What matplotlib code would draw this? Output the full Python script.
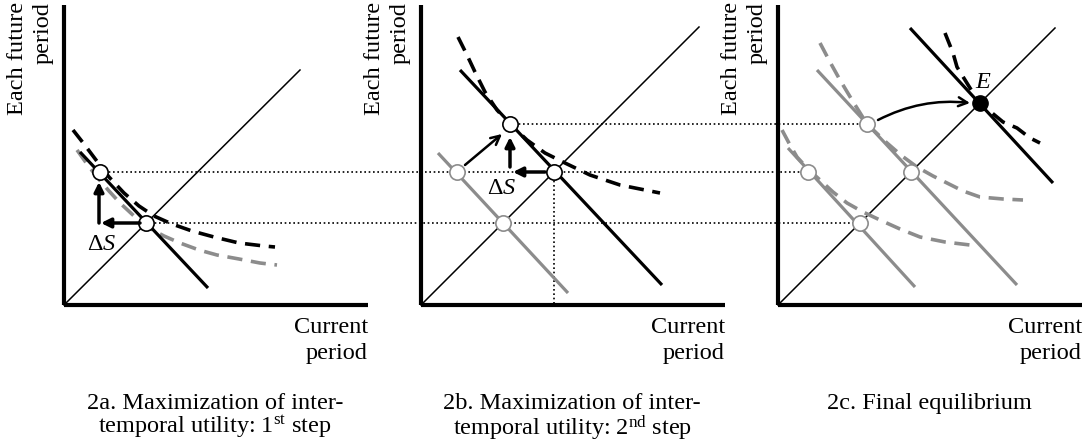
import matplotlib
matplotlib.use('Agg')
import matplotlib.pyplot as plt

plt.rcParams['font.family'] = ['Liberation Serif', 'DejaVu Serif']
plt.rcParams['mathtext.fontset'] = 'custom'
plt.rcParams['mathtext.rm'] = 'Liberation Serif'
plt.rcParams['mathtext.it'] = 'Liberation Serif:italic'

# ---------------- data (panel-local units, origin at the axes corner) ----------------
# panel 2a
a_diag_x = [0, 236]
a_diag_y = [0, 235]
a_budget_x = [16, 144]
a_budget_y = [153, 17]
a_ic_black_x = [9, 20, 32, 45, 60, 75, 90, 108, 128, 150, 175, 200, 211]
a_ic_black_y = [175, 161, 145, 128, 112, 99, 89, 81, 74, 68, 62, 59, 58]
a_ic_grey_x = [13, 23, 33, 45, 56, 70, 83, 100, 116, 135, 153, 175, 196, 213]
a_ic_grey_y = [155, 141, 128, 114, 102, 89, 78, 69, 62, 55, 50, 46, 42, 40]
a_points_x = [36, 82]
a_points_y = [133, 82]

# panel 2b
b_diag_x = [0, 278]
b_diag_y = [0, 278]
b_old_budget_x = [17, 147]
b_old_budget_y = [152, 12]
b_budget_x = [39, 241]
b_budget_y = [235, 20]
b_ic_black_x = [37, 46, 54, 64, 76, 89, 106, 124, 144, 169, 199, 239]
b_ic_black_y = [268, 250, 233, 213, 195, 181, 165, 152, 142, 130, 120, 112]
b_grey_points_x = [36, 82]
b_grey_points_y = [133, 82]
b_black_points_x = [89, 133]
b_black_points_y = [181, 133]

# panel 2c
c_diag_x = [0, 277]
c_diag_y = [0, 277]
c_budget1_x = [10, 137]
c_budget1_y = [157, 18]
c_budget2_x = [39, 239]
c_budget2_y = [235, 20]
c_budget_final_x = [132, 275]
c_budget_final_y = [277, 122]
c_ic_final_x = [167, 175, 179, 192, 202, 225, 239, 252, 262]
c_ic_final_y = [272, 252, 238, 217, 202, 183, 177, 167, 162]
c_ic_grey_upper_x = [42, 52, 62, 74, 89, 109, 124, 139, 155, 169, 185, 202, 225, 245]
c_ic_grey_upper_y = [262, 243, 225, 205, 181, 162, 149, 138, 129, 122, 114, 108, 106, 105]
c_ic_grey_lower_x = [4, 12, 19, 30, 42, 55, 69, 85, 102, 122, 142, 167, 192]
c_ic_grey_lower_y = [175, 160, 148, 136, 125, 113, 102, 93, 85, 76, 68, 63, 60]
c_points_x = [30, 82, 89, 133]
c_points_y = [133, 82, 181, 133]
c_eq_x = [202]
c_eq_y = [202]

captions = ['2a. Maximization of inter-\ntemporal utility: 1$^{\\mathrm{st}}$ step',
            '2b. Maximization of inter-\ntemporal utility: 2$^{\\mathrm{nd}}$ step',
            '2c. Final equilibrium']
x_label = 'Current\nperiod'
y_label = 'Each future\nperiod'

# ---------------- figure ----------------
FIG_W, FIG_H = 1086, 448
fig = plt.figure(figsize=(FIG_W / 100, FIG_H / 100), dpi=100)
fig.patch.set_facecolor('white')

GREY = '#8c8c8c'
panel_origins = [(64, 305), (421, 305), (778, 305)]
W, H = 304, 300
axes = []
for ox, oy in panel_origins:
    ax = fig.add_axes([ox / FIG_W, (FIG_H - oy) / FIG_H, W / FIG_W, H / FIG_H])
    ax.set_xlim(0, W)
    ax.set_ylim(0, H)
    ax.patch.set_visible(False)
    for s in ['top', 'right']:
        ax.spines[s].set_visible(False)
    for s in ['left', 'bottom']:
        ax.spines[s].set_linewidth(3)
        ax.spines[s].set_capstyle('butt')
    ax.set_xticks([])
    ax.set_yticks([])
    axes.append(ax)
axa, axb, axc = axes


def to_ax(ax_from, ax_to, pt):
    return ax_to.transData.inverted().transform(ax_from.transData.transform(pt))


def dashed(ax, x, y, color):
    ax.plot(x, y, color=color, lw=2.6, dashes=(4.2, 2.4), dash_capstyle='butt',
            zorder=3, clip_on=False)


def solid(ax, x, y, color, lw=2.3):
    ax.plot(x, y, color=color, lw=lw, solid_capstyle='butt', zorder=3, clip_on=False)


def dotted(ax, x, y):
    ax.plot(x, y, color='black', lw=1.2, linestyle=(0, (1, 1.6)), zorder=1, clip_on=False)


def circles(ax, x, y, edge):
    ax.plot(x, y, 'o', ms=11, mfc='white', mec=edge, mew=1.2, zorder=6, clip_on=False)


def arrow(ax, start, end, lw=2.5, style='-|>', ms=14, rad=0.0):
    ax.annotate('', xy=end, xytext=start,
                arrowprops=dict(arrowstyle=style, lw=lw, color='black', mutation_scale=ms,
                                shrinkA=0, shrinkB=0,
                                connectionstyle='arc3,rad=%s' % rad),
                zorder=7, annotation_clip=False)


# dotted guide lines spanning panels
xa_end = to_ax(axc, axa, (c_points_x[0], c_points_y[0]))[0]
dotted(axa, [a_points_x[0], xa_end], [a_points_y[0]] * 2)
xa_end2 = to_ax(axc, axa, (c_points_x[1], c_points_y[1]))[0]
dotted(axa, [a_points_x[1], xa_end2], [a_points_y[1]] * 2)
xb_end = to_ax(axc, axb, (c_points_x[2], c_points_y[2]))[0]
dotted(axb, [b_black_points_x[0], xb_end], [b_black_points_y[0]] * 2)
dotted(axb, [b_black_points_x[1]] * 2, [b_black_points_y[1], 0])

# panel a
axa.plot(a_diag_x, a_diag_y, color='black', lw=1.1, zorder=2, clip_on=False)
dashed(axa, a_ic_grey_x, a_ic_grey_y, GREY)
dashed(axa, a_ic_black_x, a_ic_black_y, 'black')
solid(axa, a_budget_x, a_budget_y, 'black')
arrow(axa, (76, 82), (37, 82))
arrow(axa, (35, 82), (35, 123))
circles(axa, a_points_x, a_points_y, 'black')
axa.text(38, 61, r'$\Delta S$', fontsize=17.5, ha='center', va='center')

# panel b
axb.plot(b_diag_x, b_diag_y, color='black', lw=1.1, zorder=2, clip_on=False)
solid(axb, b_old_budget_x, b_old_budget_y, GREY)
dashed(axb, b_ic_black_x, b_ic_black_y, 'black')
solid(axb, b_budget_x, b_budget_y, 'black')
arrow(axb, (124, 133), (92, 133))
arrow(axb, (89, 138), (89, 168))
arrow(axb, (44, 140), (81, 171), lw=1.8, style='->', ms=16)
circles(axb, b_grey_points_x, b_grey_points_y, GREY)
circles(axb, b_black_points_x, b_black_points_y, 'black')
axb.text(81, 117, r'$\Delta S$', fontsize=17.5, ha='center', va='center')

# panel c
axc.plot(c_diag_x, c_diag_y, color='black', lw=1.1, zorder=2, clip_on=False)
solid(axc, c_budget1_x, c_budget1_y, GREY)
solid(axc, c_budget2_x, c_budget2_y, GREY)
dashed(axc, c_ic_grey_lower_x, c_ic_grey_lower_y, GREY)
dashed(axc, c_ic_grey_upper_x, c_ic_grey_upper_y, GREY)
dashed(axc, c_ic_final_x, c_ic_final_y, 'black')
solid(axc, c_budget_final_x, c_budget_final_y, 'black')
circles(axc, c_points_x, c_points_y, GREY)
axc.plot(c_eq_x, c_eq_y, 'o', ms=11, color='black', zorder=6, clip_on=False)
arrow(axc, (100, 185), (192, 202), lw=1.8, style='->', ms=16, rad=-0.15)
axc.text(205, 223, 'E', fontstyle='italic', fontsize=17.5, ha='center', va='center')

# labels and captions
for ax, cap in zip(axes, captions):
    ax.text(W, -12, x_label, ha='right', va='top', ma='right', fontsize=17.5, linespacing=1.32)
    ax.text(-57, 303, y_label, rotation=90, ha='left', va='top', ma='right',
            fontsize=17.5, linespacing=1.3)
    ax.text(151, -88, cap, ha='center', va='top', fontsize=17.5, linespacing=0.98)

fig.savefig('out.png', dpi=100, facecolor='white')
